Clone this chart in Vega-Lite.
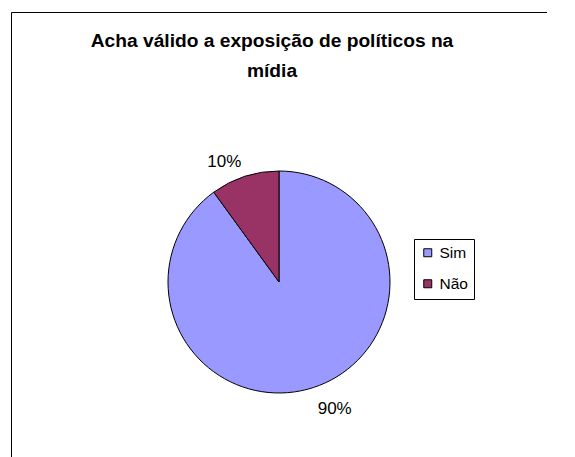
{
  "$schema": "https://vega.github.io/schema/vega-lite/v6.json",
  "width": 536,
  "height": 540,
  "autosize": {"type": "none"},
  "padding": {"left": 11, "top": 12, "right": 0, "bottom": 0},
  "background": "white",
  "view": {"stroke": "black", "strokeWidth": 1, "strokeDash": [536, 1076, 540, 20]},
  "config": {"font": "Liberation Sans"},
  "title": {
    "text": ["Acha válido a exposição de políticos na", "mídia"],
    "anchor": "middle",
    "frame": "group",
    "orient": "top",
    "offset": -35,
    "baseline": "alphabetic",
    "dx": -7,
    "dy": 49,
    "font": "Liberation Sans",
    "fontSize": 19.2,
    "fontWeight": "bold",
    "color": "black",
    "lineHeight": 30
  },
  "data": {
    "values": [
      {"resposta": "Sim", "valor": 0.9},
      {"resposta": "Não", "valor": 0.1}
    ]
  },
  "encoding": {
    "theta": {"field": "valor", "type": "quantitative", "stack": true},
    "order": {"field": "valor", "type": "quantitative", "sort": "descending"}
  },
  "layer": [
    {
      "mark": {"type": "arc", "outerRadius": 111, "stroke": "black", "strokeWidth": 1},
      "encoding": {
        "color": {
          "field": "resposta",
          "type": "nominal",
          "scale": {"domain": ["Sim", "Não"], "range": ["#9999FF", "#993366"]},
          "legend": {
            "title": null,
            "orient": "none",
            "legendX": 403,
            "legendY": 227,
            "strokeColor": "black",
            "fillColor": "white",
            "padding": 6,
            "symbolType": "square",
            "symbolSize": 64,
            "symbolStrokeColor": "black",
            "symbolStrokeWidth": 1,
            "labelFont": "Liberation Sans",
            "labelFontSize": 15.5,
            "labelColor": "black",
            "rowPadding": 14,
            "labelOffset": 4
          }
        }
      }
    },
    {
      "mark": {"type": "text", "radius": 135, "fontSize": 17, "color": "black", "baseline": "middle", "align": "center", "dx": 14, "dy": -1},
      "encoding": {
        "text": {"condition": {"test": "datum.resposta == 'Sim'", "field": "valor", "format": ".0%"}, "value": ""}
      }
    },
    {
      "mark": {"type": "text", "radius": 135, "fontSize": 17, "color": "black", "baseline": "middle", "align": "center", "dx": -13, "dy": 8},
      "encoding": {
        "text": {"condition": {"test": "datum.resposta == 'Não'", "field": "valor", "format": ".0%"}, "value": ""}
      }
    }
  ]
}
